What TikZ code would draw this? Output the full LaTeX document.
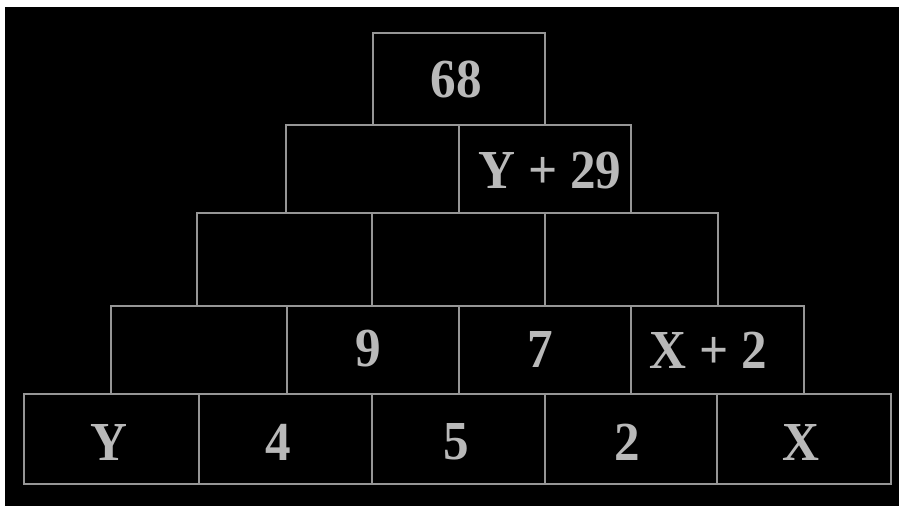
\documentclass[tikz,border=0pt]{standalone}
\usepackage{fontspec}
\setmainfont{Liberation Serif}
\definecolor{linegray}{RGB}{150,150,150}
\definecolor{textgray}{RGB}{185,185,185}
\newcommand\pcell[5]{\node[cellbox,minimum width={(#4)-(#2)},minimum height={(#5)-(#3)}] (#1) at ({((#2)+(#4))/2},{((#3)+(#5))/2}) {};}
\newcommand\ptext[4]{\node[celltext] (#1) at (#2,#3) {\scalebox{0.93}[1]{#4}};}
\begin{document}
\begin{tikzpicture}[x=1pt,y=-1pt,
  cellbox/.style={draw=linegray,line width=1.3pt,rectangle,inner sep=0pt,outer sep=0pt},
  celltext/.style={text=textgray,inner sep=0pt,anchor=center,font=\fontsize{55}{60}\selectfont\bfseries}]
\useasboundingbox (0,0) rectangle (899,506);
\fill[white] (0,0) rectangle (899,506);
\fill[black] (5,7) rectangle (899,506);
% row 1 (bottom)
\pcell{a1}{24}{394}{199}{484}
\pcell{a2}{199}{394}{372}{484}
\pcell{a3}{372}{394}{545}{484}
\pcell{a4}{545}{394}{717}{484}
\pcell{a5}{717}{394}{891}{484}
% row 2
\pcell{b1}{111}{306}{287}{394}
\pcell{b2}{287}{306}{459}{394}
\pcell{b3}{459}{306}{631}{394}
\pcell{b4}{631}{306}{804}{394}
% row 3
\pcell{c1}{197}{213}{372}{306}
\pcell{c2}{372}{213}{545}{306}
\pcell{c3}{545}{213}{718}{306}
% row 4
\pcell{d1}{286}{125}{459}{213}
\pcell{d2}{459}{125}{631}{213}
% top
\pcell{e1}{373}{33}{545}{125}
% texts
\ptext{t68}{456}{79}{68}
\ptext{ty29}{550}{171}{Y + 29}
\ptext{t9}{368}{349}{9}
\ptext{t7}{540}{349}{7}
\ptext{tx2}{708}{350}{X + 2}
\ptext{tY}{109}{442}{Y}
\ptext{t4}{278}{442}{4}
\ptext{t5}{456}{442}{5}
\ptext{t2}{627}{442}{2}
\ptext{tX}{801}{442}{X}
\end{tikzpicture}
\end{document}
